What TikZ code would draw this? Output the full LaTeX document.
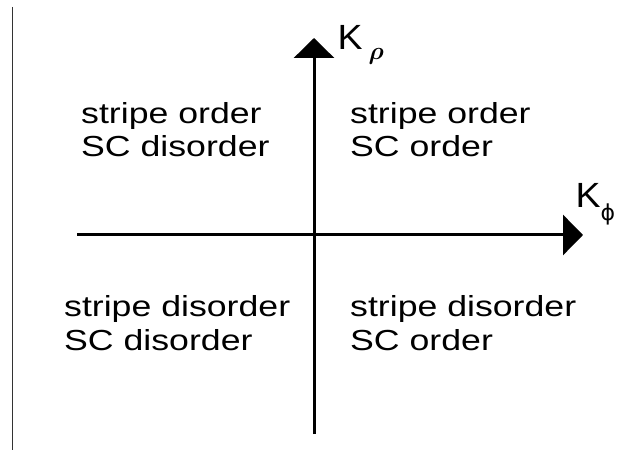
\documentclass[tikz,border=0pt]{standalone}
\usepackage{fontspec}
\setmainfont{Liberation Sans}[FakeStretch=1.23]
\newfontfamily\labelfont{Liberation Sans}[FakeStretch=1.07]
\newfontfamily\greekfont{DejaVu Sans}
\usetikzlibrary{arrows.meta}
\begin{document}
\begin{tikzpicture}[x=1pt,y=1pt,
  axis/.style={line width=3pt,-{Triangle[length=20pt,width=40pt]}},
  region/.style={anchor=base west,inner sep=0pt,align=left,font=\fontsize{29}{33}\selectfont},
  klabel/.style={anchor=base west,inner sep=0pt,font=\labelfont\fontsize{35}{40}\selectfont}]
\useasboundingbox (0,0) rectangle (631,460);
\coordinate (ltop) at (12,453);
\coordinate (lbot) at (12,10);
\draw[line width=1pt,black!80] (ltop) -- (lbot);
\coordinate (hstart) at (77,225);
\coordinate (hend) at (583,225);
\coordinate (vstart) at (314,26);
\coordinate (vend) at (314,422);
\draw[axis] (hstart) -- (hend);
\draw[axis] (vstart) -- (vend);
\node[region] (tl) at (81,303) {stripe order\\SC disorder};
\node[region] (tr) at (350,303) {stripe order\\SC order};
\node[region] (bl) at (64,110) {stripe disorder\\SC disorder};
\node[region] (br) at (350,110) {stripe disorder\\SC order};
\node[klabel] (krho) at (337.5,410) {K\,\raisebox{-10pt}{\fontsize{28}{28}\selectfont\boldmath$\rho$}};
\node[klabel] (kphi) at (575.5,252) {K\raisebox{-13pt}{\greekfont\fontsize{22}{24}\selectfont ϕ}};
\end{tikzpicture}
\end{document}
